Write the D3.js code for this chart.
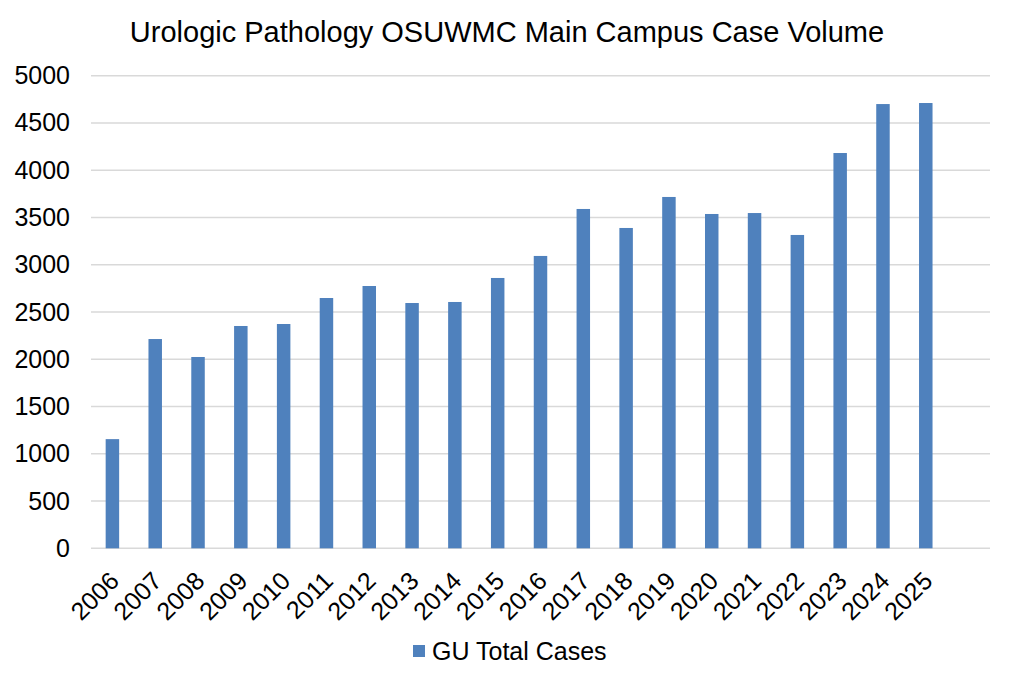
<!DOCTYPE html>
<html>
<head>
<meta charset="utf-8">
<script src="https://cdn.jsdelivr.net/npm/d3@7"></script>
<style>
  body { margin: 0; background: #fff; }
  text { font-family: "Liberation Sans", Arial, sans-serif; }
</style>
</head>
<body>
<div id="chart"></div>
<script>
// Data
const years = ["2006", "2007", "2008", "2009", "2010", "2011", "2012", "2013", "2014", "2015",
               "2016", "2017", "2018", "2019", "2020", "2021", "2022", "2023", "2024", "2025"];
const cases = [1155, 2214, 2024, 2352, 2373, 2648, 2775, 2595, 2606, 2860,
               3093, 3590, 3389, 3717, 3537, 3547, 3315, 4182, 4700, 4711];
const yTicks = [0, 500, 1000, 1500, 2000, 2500, 3000, 3500, 4000, 4500, 5000];
const seriesName = "GU Total Cases";
const chartTitle = "Urologic Pathology OSUWMC Main Campus Case Volume";

const width = 1013, height = 683;
const margin = { top: 76, right: 23, bottom: 135, left: 91 };
const barColor = "#4f81bd";
const fontSize = "25px";

const svg = d3.select("#chart").append("svg")
    .attr("width", width)
    .attr("height", height);

// one empty slot after the last year, like the original
const x = d3.scaleBand()
    .domain([...years, ""])
    .range([margin.left, width - margin.right])
    .paddingInner(0.685)
    .paddingOuter(0.3425);

const y = d3.scaleLinear()
    .domain([0, 5000])
    .range([548.3, 75.7]);

// gridlines
svg.append("g")
    .selectAll("line")
    .data(yTicks)
    .enter()
    .append("line")
    .attr("x1", margin.left)
    .attr("x2", width - margin.right)
    .attr("y1", d => y(d))
    .attr("y2", d => y(d))
    .attr("stroke", "#d9d9d9")
    .attr("stroke-width", 1.5);

// y axis labels
const yAxis = d3.axisLeft(y).tickValues(yTicks).tickFormat(d3.format("d")).tickSize(0).tickPadding(21);
svg.append("g")
    .attr("transform", `translate(${margin.left},0)`)
    .call(yAxis)
    .call(g => g.select(".domain").remove())
    .selectAll("text")
    .attr("font-size", fontSize)
    .attr("fill", "#000");

// bars
svg.append("g")
    .selectAll("rect")
    .data(years)
    .enter()
    .append("rect")
    .attr("x", d => x(d))
    .attr("width", x.bandwidth())
    .attr("y", (d, i) => y(cases[i]))
    .attr("height", (d, i) => y(0) - y(cases[i]))
    .attr("fill", barColor);

// x axis labels (rotated)
const xAxis = d3.axisBottom(x).tickValues(years).tickSize(0).tickPadding(0);
svg.append("g")
    .attr("transform", `translate(0,${y(0)})`)
    .call(xAxis)
    .call(g => g.select(".domain").remove())
    .selectAll("text")
    .attr("font-size", fontSize)
    .attr("fill", "#000")
    .attr("text-anchor", "end")
    .attr("dy", "0.35em")
    .attr("transform", "translate(2,28) rotate(-45)");

// title
svg.append("text")
    .attr("x", 507)
    .attr("y", 42)
    .attr("text-anchor", "middle")
    .attr("font-size", "29px")
    .attr("fill", "#000")
    .text(chartTitle);

// legend
const legend = svg.append("g")
    .attr("transform", "translate(413,651)");
legend.append("rect")
    .attr("x", 0)
    .attr("y", -6)
    .attr("width", 12)
    .attr("height", 12)
    .attr("fill", barColor);
legend.append("text")
    .attr("x", 19)
    .attr("y", 0)
    .attr("dy", "0.35em")
    .attr("font-size", fontSize)
    .attr("fill", "#000")
    .text(seriesName);
</script>
</body>
</html>
